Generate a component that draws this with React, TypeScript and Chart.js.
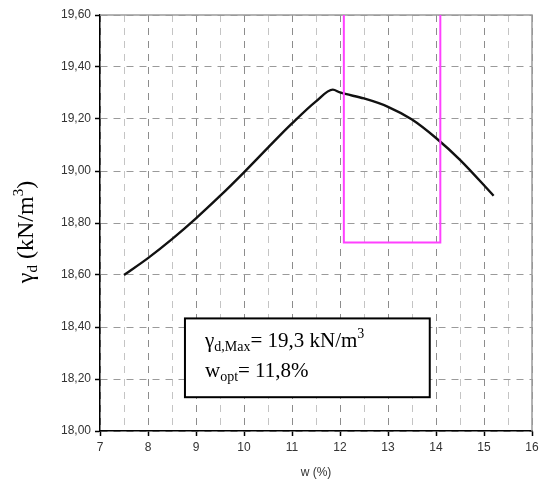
import React, { useEffect, useRef } from 'react';
import { Chart, registerables } from 'chart.js';

Chart.register(...registerables);

// Compaction curve: water content w (%) vs dry unit weight γd (kN/m³)
const waterContent = [7.5, 8.0, 8.5, 9.0, 9.5, 10.0, 10.5, 11.0, 11.5, 11.85, 12.0, 12.5, 13.0, 13.5, 14.0, 14.5, 15.2];
const dryUnitWeight = [18.60, 18.665, 18.738, 18.818, 18.904, 18.995, 19.09, 19.183, 19.268, 19.313, 19.302, 19.279, 19.247, 19.198, 19.127, 19.043, 18.905];

// Magenta acceptance range (open-top rectangle)
const rangeW = [12.08, 12.08, 14.09, 14.09];
const rangeGamma = [19.6, 18.725, 18.725, 19.6];

// Axis limits and steps
const xMin = 7;
const xMax = 16;
const xStep = 0.5;
const yMin = 18.0;
const yMax = 19.6;
const yStep = 0.2;

// Annotation box contents and its anchor in data units
const annotLine1 = ['γ', 'd,Max', '= 19,3 kN/m', '3'];
const annotLine2 = ['w', 'opt', '= 11,8%'];
const annotBoxW = [8.77, 13.87];
const annotBoxGamma = [18.433, 18.13];

const yTitleParts = ['γ', 'd', ' (kN/m', '3', ')'];
const xTitle = 'w (%)';

const SERIF = '"Liberation Serif", "Times New Roman", serif';
const SANS = '"Liberation Sans", Arial, sans-serif';

type Part = { t: string; size: number; dy: number };

function drawParts(ctx: CanvasRenderingContext2D, parts: Part[], x: number, y: number) {
  let cx = x;
  for (const p of parts) {
    ctx.font = `${p.size}px ${SERIF}`;
    ctx.fillText(p.t, cx, y + p.dy);
    cx += ctx.measureText(p.t).width;
  }
}
function measureParts(ctx: CanvasRenderingContext2D, parts: Part[]) {
  let w = 0;
  for (const p of parts) {
    ctx.font = `${p.size}px ${SERIF}`;
    w += ctx.measureText(p.t).width;
  }
  return w;
}

const decorPlugin = {
  id: 'decor',
  beforeDatasetsDraw(chart: any) {
    const { ctx, chartArea } = chart;
    ctx.save();
    ctx.strokeStyle = '#9a9a9a';
    ctx.lineWidth = 1.5;
    ctx.beginPath();
    ctx.moveTo(chartArea.left, chartArea.top);
    ctx.lineTo(chartArea.right, chartArea.top);
    ctx.lineTo(chartArea.right, chartArea.bottom);
    ctx.stroke();
    ctx.restore();
  },
  afterDatasetsDraw(chart: any) {
    const { ctx } = chart;
    const xs = chart.scales.x;
    const ys = chart.scales.y;
    const l = xs.getPixelForValue(annotBoxW[0]);
    const r = xs.getPixelForValue(annotBoxW[1]);
    const t = ys.getPixelForValue(annotBoxGamma[0]);
    const b = ys.getPixelForValue(annotBoxGamma[1]);
    ctx.save();
    ctx.fillStyle = '#ffffff';
    ctx.fillRect(l, t, r - l, b - t);
    ctx.strokeStyle = '#000';
    ctx.lineWidth = 2;
    ctx.strokeRect(l, t, r - l, b - t);
    ctx.fillStyle = '#000';
    ctx.textBaseline = 'alphabetic';
    ctx.textAlign = 'left';
    drawParts(ctx, [
      { t: annotLine1[0], size: 21, dy: 0 },
      { t: annotLine1[1], size: 14, dy: 4 },
      { t: annotLine1[2], size: 21, dy: 0 },
      { t: annotLine1[3], size: 14, dy: -9 },
    ], l + 20, t + 29);
    drawParts(ctx, [
      { t: annotLine2[0], size: 21, dy: 0 },
      { t: annotLine2[1], size: 14, dy: 4 },
      { t: annotLine2[2], size: 21, dy: 0 },
    ], l + 20, t + 59);
    ctx.restore();
  },
  afterDraw(chart: any) {
    const { ctx, chartArea } = chart;
    const parts: Part[] = [
      { t: yTitleParts[0], size: 24, dy: 0 },
      { t: yTitleParts[1], size: 15, dy: 4 },
      { t: yTitleParts[2], size: 24, dy: 0 },
      { t: yTitleParts[3], size: 15, dy: -10 },
      { t: yTitleParts[4], size: 24, dy: 0 },
    ];
    ctx.save();
    const cy = (chartArea.top + chartArea.bottom) / 2 + 9;
    ctx.translate(33, cy);
    ctx.rotate(-Math.PI / 2);
    ctx.fillStyle = '#000';
    ctx.textBaseline = 'alphabetic';
    ctx.textAlign = 'left';
    const w = measureParts(ctx, parts);
    drawParts(ctx, parts, -w / 2, 0);
    ctx.restore();
  },
};

export default function App() {
  const canvasRef = useRef<HTMLCanvasElement | null>(null);

  useEffect(() => {
    document.body.style.margin = '0';
    const canvas = canvasRef.current;
    if (!canvas) return;
    const isInt = (v: number) => Math.abs(v - Math.round(v)) < 1e-6;

    const chart = new Chart(canvas, {
      type: 'line',
      data: {
        datasets: [
          {
            data: rangeW.map((w, i) => ({ x: w, y: rangeGamma[i] })),
            borderColor: '#ff40ff',
            borderWidth: 2,
            pointRadius: 0,
            tension: 0,
            fill: false,
          },
          {
            data: waterContent.map((w, i) => ({ x: w, y: dryUnitWeight[i] })),
            borderColor: '#111111',
            borderWidth: 2.4,
            pointRadius: 0,
            cubicInterpolationMode: 'monotone',
            fill: false,
          },
        ],
      },
      options: {
        responsive: false,
        animation: false,
        devicePixelRatio: 1,
        layout: { padding: { top: 15, right: 7, left: 0, bottom: 0 } },
        plugins: {
          legend: { display: false },
          tooltip: { enabled: false },
        },
        scales: {
          x: {
            type: 'linear',
            min: xMin,
            max: xMax,
            afterFit: (s: any) => { s.height = 55; s.paddingLeft = 0; s.paddingRight = 0; },
            ticks: {
              stepSize: xStep,
              autoSkip: false,
              maxRotation: 0,
              padding: 4,
              color: '#333',
              font: { family: SANS, size: 12 },
              callback: (v: any) => (isInt(Number(v)) ? String(Math.round(Number(v))) : ''),
            },
            grid: {
              color: (c: any) => (c.tick && isInt(c.tick.value) ? '#8c8c8c' : '#c4c4c4'),
              lineWidth: 1,
              tickLength: 5,
              tickWidth: 1.5,
              tickColor: (c: any) => (c.tick && isInt(c.tick.value) ? '#000' : 'rgba(0,0,0,0)'),
            },
            border: { color: '#000', width: 1.5, dash: [7, 6] },
            title: {
              display: true,
              text: xTitle,
              color: '#333',
              font: { family: SANS, size: 12 },
              padding: { top: 2, bottom: 6 },
            },
          },
          y: {
            type: 'linear',
            min: yMin,
            max: yMax,
            afterFit: (s: any) => { s.width = 100; s.paddingTop = 0; s.paddingBottom = 0; },
            ticks: {
              stepSize: yStep,
              padding: 4,
              color: '#333',
              font: { family: SANS, size: 12 },
              callback: (v: any) => Number(v).toFixed(2).replace('.', ','),
            },
            grid: {
              color: '#9a9a9a',
              lineWidth: 1,
              tickLength: 5,
              tickWidth: 1.5,
              tickColor: '#000',
            },
            border: { color: '#000', width: 1.5, dash: [7, 6] },
          },
        },
      },
      plugins: [decorPlugin],
    } as any);

    return () => chart.destroy();
  }, []);

  return (
    <div style={{ width: 539, height: 486, position: 'relative' }}>
      <canvas ref={canvasRef} width={539} height={486} style={{ display: 'block' }} />
    </div>
  );
}
